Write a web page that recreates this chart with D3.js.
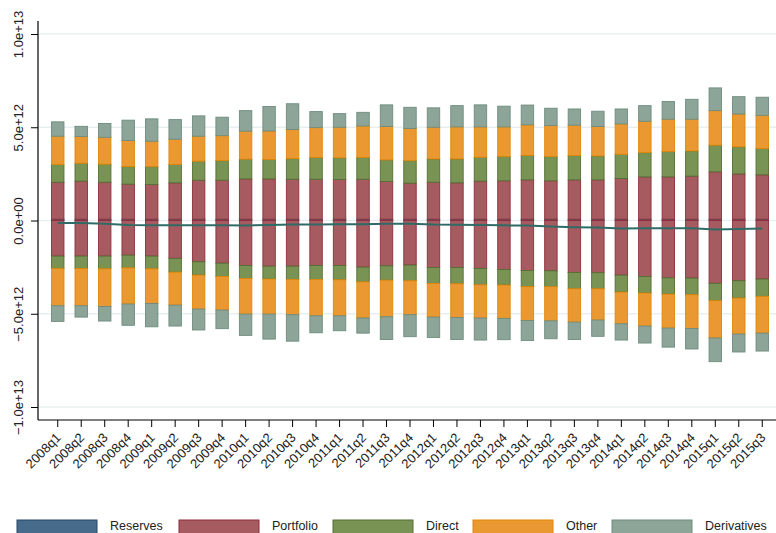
<!DOCTYPE html>
<html>
<head>
<meta charset="utf-8">
<script src="https://cdn.jsdelivr.net/npm/d3@7"></script>
<style>
  html, body { margin: 0; padding: 0; background: #fff; }
  svg { display: block; font-family: "Liberation Sans", Arial, sans-serif; }
</style>
</head>
<body>
<svg id="chart" width="776" height="533"></svg>
<script>
// Quarterly external positions (units of 1e12), assets stacked up, liabilities stacked down
const quarters = [
  "2008q1","2008q2","2008q3","2008q4","2009q1","2009q2","2009q3","2009q4",
  "2010q1","2010q2","2010q3","2010q4","2011q1","2011q2","2011q3","2011q4",
  "2012q1","2012q2","2012q3","2012q4","2013q1","2013q2","2013q3","2013q4",
  "2014q1","2014q2","2014q3","2014q4","2015q1","2015q2","2015q3"
];
const seriesNames = ["Reserves", "Portfolio", "Direct", "Other", "Derivatives"];

// Assets
const reservesA = [0.07,0.07,0.07,0.07,0.07,0.07,0.07,0.07,0.07,0.07,0.07,0.07,0.07,0.07,0.07,0.07,
  0.07,0.07,0.07,0.07,0.07,0.07,0.07,0.07,0.07,0.07,0.07,0.07,0.07,0.07,0.07];
const portfolioA = [1.98,2.04,1.98,1.88,1.86,1.95,2.09,2.09,2.16,2.16,2.14,2.14,2.13,2.14,2.02,1.93,
  1.98,1.95,2.04,2.06,2.11,2.06,2.11,2.11,2.18,2.27,2.27,2.31,2.54,2.43,2.38];
const directA = [0.95,0.96,0.97,0.94,0.96,0.98,1.02,1.05,1.06,1.04,1.11,1.17,1.16,1.17,1.16,1.21,
  1.25,1.28,1.28,1.30,1.31,1.30,1.30,1.28,1.30,1.30,1.36,1.35,1.43,1.45,1.41];
const otherA = [1.52,1.43,1.44,1.40,1.36,1.36,1.34,1.34,1.50,1.53,1.56,1.60,1.64,1.69,1.79,1.72,
  1.70,1.72,1.63,1.59,1.64,1.66,1.63,1.58,1.63,1.68,1.73,1.70,1.85,1.76,1.78];
const derivativesA = [0.77,0.55,0.74,1.09,1.20,1.05,1.09,0.99,1.10,1.31,1.38,0.86,0.73,0.73,1.16,1.14,
  1.04,1.14,1.18,1.11,1.06,0.93,0.87,0.82,0.80,0.84,0.95,1.07,1.22,0.93,0.97];

// Liabilities
const reservesL = [0,0,0,0,0,0,0,0,0,0,0,0,0,0,0,0,0,0,0,0,0,0,0,0,0,0,0,0,0,0,0];
const portfolioL = [-1.91,-1.91,-1.91,-1.86,-1.91,-2.03,-2.21,-2.29,-2.41,-2.45,-2.45,-2.41,-2.41,-2.50,-2.43,-2.39,
  -2.52,-2.52,-2.57,-2.63,-2.68,-2.70,-2.79,-2.80,-2.93,-3.00,-3.07,-3.09,-3.37,-3.23,-3.14];
const directL = [-0.66,-0.66,-0.68,-0.68,-0.68,-0.74,-0.72,-0.71,-0.70,-0.69,-0.71,-0.75,-0.77,-0.79,-0.77,-0.84,
  -0.86,-0.87,-0.88,-0.83,-0.87,-0.85,-0.87,-0.86,-0.91,-0.89,-0.88,-0.89,-0.93,-0.93,-0.93];
const otherL = [-2.00,-2.00,-2.02,-1.94,-1.86,-1.77,-1.82,-1.80,-1.91,-1.88,-1.89,-1.95,-1.93,-1.94,-1.96,-1.82,
  -1.80,-1.81,-1.78,-1.79,-1.81,-1.83,-1.79,-1.68,-1.70,-1.77,-1.82,-1.81,-2.00,-1.93,-1.97];
const derivativesL = [-0.84,-0.61,-0.78,-1.14,-1.25,-1.12,-1.12,-1.00,-1.14,-1.34,-1.42,-0.91,-0.80,-0.81,-1.22,-1.18,
  -1.09,-1.18,-1.18,-1.14,-1.07,-0.96,-0.93,-0.87,-0.87,-0.91,-1.02,-1.10,-1.27,-0.96,-0.96];

// Net position line
const netPosition = [-0.13,-0.14,-0.18,-0.24,-0.26,-0.26,-0.26,-0.26,-0.27,-0.24,-0.22,-0.21,-0.20,-0.20,-0.18,-0.17,
  -0.22,-0.23,-0.24,-0.26,-0.27,-0.32,-0.36,-0.38,-0.43,-0.42,-0.42,-0.42,-0.48,-0.45,-0.43];

const yTicks = [1e13, 5e12, 0, -5e12, -1e13];
const yTickLabels = ["1.0e+13", "5.0e+12", "0.0e+00", "\u22125.0e+12", "\u22121.0e+13"];
const UNIT = 1e12;

const fills   = ["#476b8b", "#a55b60", "#789353", "#ea9832", "#8ca598"];
const strokes = ["#27486a", "#8e2f3b", "#566f34", "#e08708", "#6e8c7f"];

const svg = d3.select("#chart");

const x = d3.scaleBand().domain(quarters).range([46, 774]).paddingInner(0.47).paddingOuter(0.235);
const y = d3.scaleLinear().domain([-1e13, 1e13]).range([407, 34]);

const axisX0 = 38, axisY0 = 420;
const FONT = "Liberation Sans, Arial, sans-serif";

// gridlines
svg.append("g").selectAll("line").data(yTicks).join("line")
  .attr("x1", axisX0).attr("x2", 776)
  .attr("y1", d => y(d)).attr("y2", d => y(d))
  .attr("stroke", "#e8eff1").attr("stroke-width", 1.5);

// build tables for the stack layout
const assetCols = [reservesA, portfolioA, directA, otherA, derivativesA];
const liabCols  = [reservesL, portfolioL, directL, otherL, derivativesL];
function table(cols) {
  return quarters.map((q, i) => {
    const row = { q };
    seriesNames.forEach((s, k) => row[s] = cols[k][i] * UNIT);
    return row;
  });
}
const stack = d3.stack().keys(seriesNames).offset(d3.stackOffsetDiverging);
const layers = [stack(table(assetCols)), stack(table(liabCols))];

const barsG = svg.append("g");
layers.forEach(layerSet => {
  layerSet.forEach((layer, k) => {
    barsG.append("g")
      .attr("fill", fills[k]).attr("stroke", strokes[k]).attr("stroke-width", 0.9)
      .selectAll("rect").data(layer.filter(d => d[1] !== d[0])).join("rect")
      .attr("x", d => x(d.data.q))
      .attr("width", x.bandwidth())
      .attr("y", d => y(Math.max(d[0], d[1])))
      .attr("height", d => Math.abs(y(d[0]) - y(d[1])));
  });
});

// net position line
const line = d3.line()
  .x((d, i) => x(quarters[i]) + x.bandwidth() / 2)
  .y(d => y(d * UNIT));
svg.append("path").datum(netPosition)
  .attr("d", line).attr("fill", "none")
  .attr("stroke", "#2f6b66").attr("stroke-width", 2);

// y axis
const yAxis = d3.axisLeft(y).tickValues(yTicks).tickSize(7).tickFormat((d, i) => yTickLabels[i]);
const gy = svg.append("g").attr("transform", `translate(${axisX0},0)`).call(yAxis);
gy.select(".domain").remove();
gy.selectAll(".tick line").attr("stroke", "#000");
gy.selectAll(".tick text")
  .attr("transform", "rotate(-90)")
  .attr("x", 0).attr("y", -15).attr("dy", 0)
  .attr("text-anchor", "middle")
  .attr("font-size", 13).attr("fill", "#222")
  .attr("font-family", FONT);
svg.append("line").attr("x1", axisX0).attr("x2", axisX0).attr("y1", 21).attr("y2", axisY0)
  .attr("stroke", "#000").attr("stroke-width", 1.2);

// x axis
const xAxis = d3.axisBottom(x).tickSize(7);
const gx = svg.append("g").attr("transform", `translate(0,${axisY0})`).call(xAxis);
gx.select(".domain").remove();
gx.selectAll(".tick line").attr("stroke", "#000");
gx.selectAll(".tick text")
  .attr("transform", "translate(4,18.5) rotate(-45)")
  .attr("x", 0).attr("y", 0).attr("dy", 0)
  .attr("text-anchor", "end")
  .attr("font-size", 13).attr("fill", "#222")
  .attr("font-family", FONT);
svg.append("line").attr("x1", axisX0).attr("x2", 776).attr("y1", axisY0).attr("y2", axisY0)
  .attr("stroke", "#000").attr("stroke-width", 1.2);

// legend
const legendX = [17, 179, 333, 473, 612];
const lg = svg.append("g").selectAll("g").data(seriesNames).join("g")
  .attr("transform", (d, i) => `translate(${legendX[i]},520)`);
lg.append("rect").attr("width", 80).attr("height", 15)
  .attr("fill", (d, i) => fills[i]).attr("stroke", (d, i) => strokes[i]).attr("stroke-width", 1);
lg.append("text").attr("x", 93).attr("y", 10.2).text(d => d)
  .attr("font-size", 12.5).attr("fill", "#222").attr("font-family", FONT);
</script>
</body>
</html>
